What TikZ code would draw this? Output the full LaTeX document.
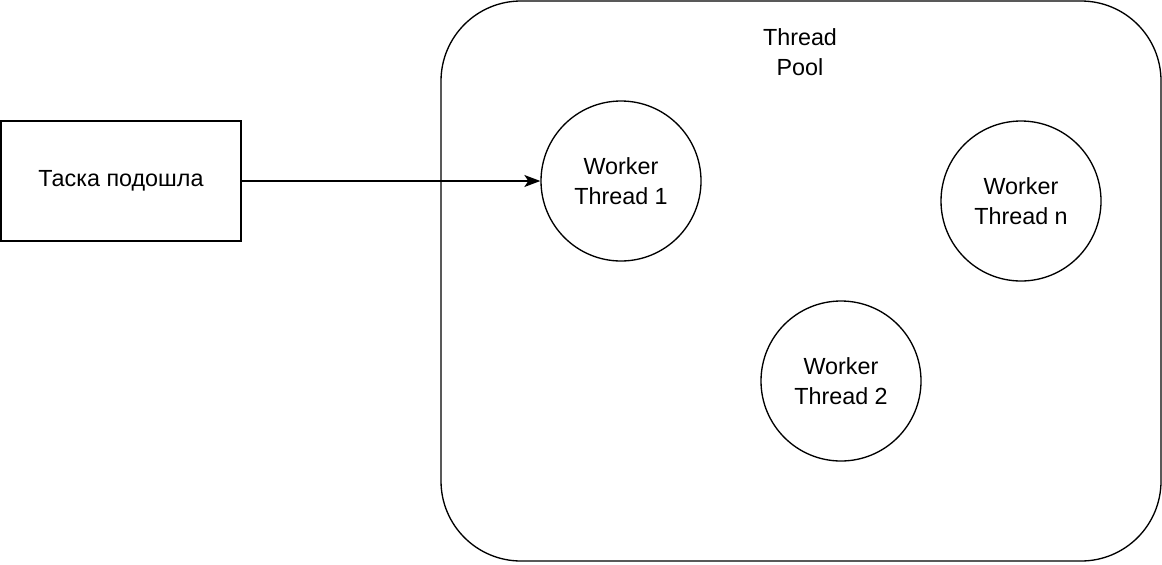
\documentclass[tikz,border=0pt]{standalone}
\usepackage{fontspec}
\setmainfont{Liberation Sans}
\usetikzlibrary{shapes,arrows.meta,positioning}

\begin{document}
\begin{tikzpicture}[
    x=0.75pt, y=-0.75pt,
    every node/.style={font=\fontsize{17.5}{22.5}\selectfont, align=center},
    pool/.style={rectangle, draw, line width=1pt, rounded corners=60pt, minimum width=540pt, minimum height=420pt, inner sep=0pt},
    task/.style={rectangle, draw, line width=1pt, minimum width=180pt, minimum height=90pt},
    worker/.style={circle, draw, line width=1pt, minimum size=120pt, inner sep=0pt},
    arrow/.style={line width=1pt, -{Stealth[length=12pt, width=9pt, inset=3pt]}}
]

% Frame
\useasboundingbox (0,0) rectangle (1162,564);

% Thread pool
\node[pool] (pool) at (801,281) {};
\node (pooltitle) at (800,52) {Thread\\Pool};

% Incoming task
\node[task] (task) at (121,181) {Таска подошла};

% Workers
\node[worker] (worker1) at (621,181) {Worker\\Thread 1};
\node[worker] (worker2) at (841,381) {Worker\\Thread 2};
\node[worker] (workern) at (1021,201) {Worker\\Thread n};

% Arrow - task to first worker
\draw[arrow] (task) -- (worker1);

\end{tikzpicture}
\end{document}
